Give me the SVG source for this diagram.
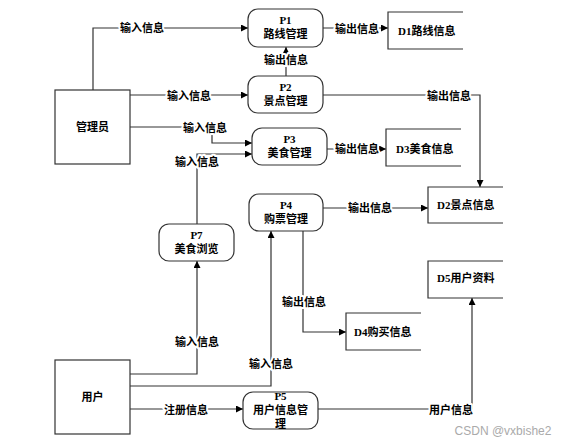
<svg xmlns="http://www.w3.org/2000/svg" width="570" height="444" viewBox="0 0 570 444">
<style>
.t{font-family:"Liberation Serif","Noto Sans CJK SC",serif;font-size:11px;font-weight:bold;fill:#000}
.m{text-anchor:middle}
.lb{paint-order:stroke;stroke:#fff;stroke-width:4px;stroke-linejoin:round}
.box{fill:#fff;stroke:#333;stroke-width:1.2}
.st{fill:none;stroke:#333;stroke-width:1.2}
.c{fill:none;stroke:#333;stroke-width:1.2;marker-end:url(#a)}
</style>
<defs>
<marker id="a" viewBox="0 0 10 10" refX="10" refY="5" markerWidth="8" markerHeight="7" markerUnits="userSpaceOnUse" orient="auto">
<path d="M0,0 L10,5 L0,10 z" fill="#000"/>
</marker>
</defs>
<rect width="570" height="444" fill="#fff"/>
<g id="connectors">
<path class="c" d="M93,90 V28 H248"/>
<path class="c" d="M130,95 H248"/>
<path class="c" d="M130,127 H212 V143 H252"/>
<path class="c" d="M197,224 V154 H252"/>
<path class="c" d="M323,28 H388"/>
<path class="c" d="M286,76 V47"/>
<path class="c" d="M323,95 H480 V187"/>
<path class="c" d="M327,149 H386"/>
<path class="c" d="M323,208 H428"/>
<path class="c" d="M303,231 V332 H346"/>
<path class="c" d="M130,374 H197 V261"/>
<path class="c" d="M130,386 H271 V231"/>
<path class="c" d="M130,409 H243"/>
<path class="c" d="M318,409 H472 V298"/>
<g class="t m lb">
<text x="142" y="32">输入信息</text>
<text x="189" y="100">输入信息</text>
<text x="205" y="132">输入信息</text>
<text x="197" y="166">输入信息</text>
<text x="357" y="33">输出信息</text>
<text x="286" y="64">输出信息</text>
<text x="449" y="100">输出信息</text>
<text x="357" y="153">输出信息</text>
<text x="370" y="212">输出信息</text>
<text x="304" y="306">输出信息</text>
<text x="197" y="346">输入信息</text>
<text x="271" y="368">输入信息</text>
<text x="186" y="414">注册信息</text>
<text x="451" y="414">用户信息</text>
</g>
</g>
<g id="admin"><rect class="box" x="55" y="90" width="75" height="74"/><text class="t m" x="92.5" y="131">管理员</text></g>
<g id="user"><rect class="box" x="55" y="360" width="75" height="74"/><text class="t m" x="92.5" y="401">用户</text></g>
<g id="P1"><rect class="box" x="248" y="9" width="75" height="38" rx="10"/><text class="t m" x="285.5" y="24">P1</text><text class="t m" x="285.5" y="38">路线管理</text></g>
<g id="P2"><rect class="box" x="248" y="76" width="75" height="37" rx="10"/><text class="t m" x="285.5" y="91">P2</text><text class="t m" x="285.5" y="105">景点管理</text></g>
<g id="P3"><rect class="box" x="252" y="128" width="75" height="37" rx="10"/><text class="t m" x="289.5" y="143">P3</text><text class="t m" x="289.5" y="157">美食管理</text></g>
<g id="P4"><rect class="box" x="249" y="194" width="74" height="37" rx="10"/><text class="t m" x="286" y="209">P4</text><text class="t m" x="286" y="223">购票管理</text></g>
<g id="P7"><rect class="box" x="159" y="224" width="75" height="37" rx="10"/><text class="t m" x="196.5" y="239">P7</text><text class="t m" x="196.5" y="253">美食浏览</text></g>
<g id="P5"><rect class="box" x="243" y="392" width="75" height="37" rx="10"/><text class="t m" x="280.5" y="400">P5</text><text class="t m" x="280.5" y="414">用户信息管</text><text class="t m" x="280.5" y="428">理</text></g>
<g id="D1"><path class="st" d="M463,12 H388 V49 H463"/><text class="t" x="398" y="35">D1路线信息</text></g>
<g id="D3"><path class="st" d="M461,129 H386 V166 H461"/><text class="t" x="396" y="153">D3美食信息</text></g>
<g id="D2"><path class="st" d="M503,187 H428 V223 H503"/><text class="t" x="437" y="209">D2景点信息</text></g>
<g id="D5"><path class="st" d="M503,261 H428 V298 H503"/><text class="t" x="437" y="282">D5用户资料</text></g>
<g id="D4"><path class="st" d="M421,313 H346 V350 H421"/><text class="t" x="354" y="336">D4购买信息</text></g>
<text x="503" y="435" text-anchor="middle" font-family="Liberation Sans, sans-serif" font-size="12" fill="#aaa">CSDN @vxbishe2</text>
</svg>
